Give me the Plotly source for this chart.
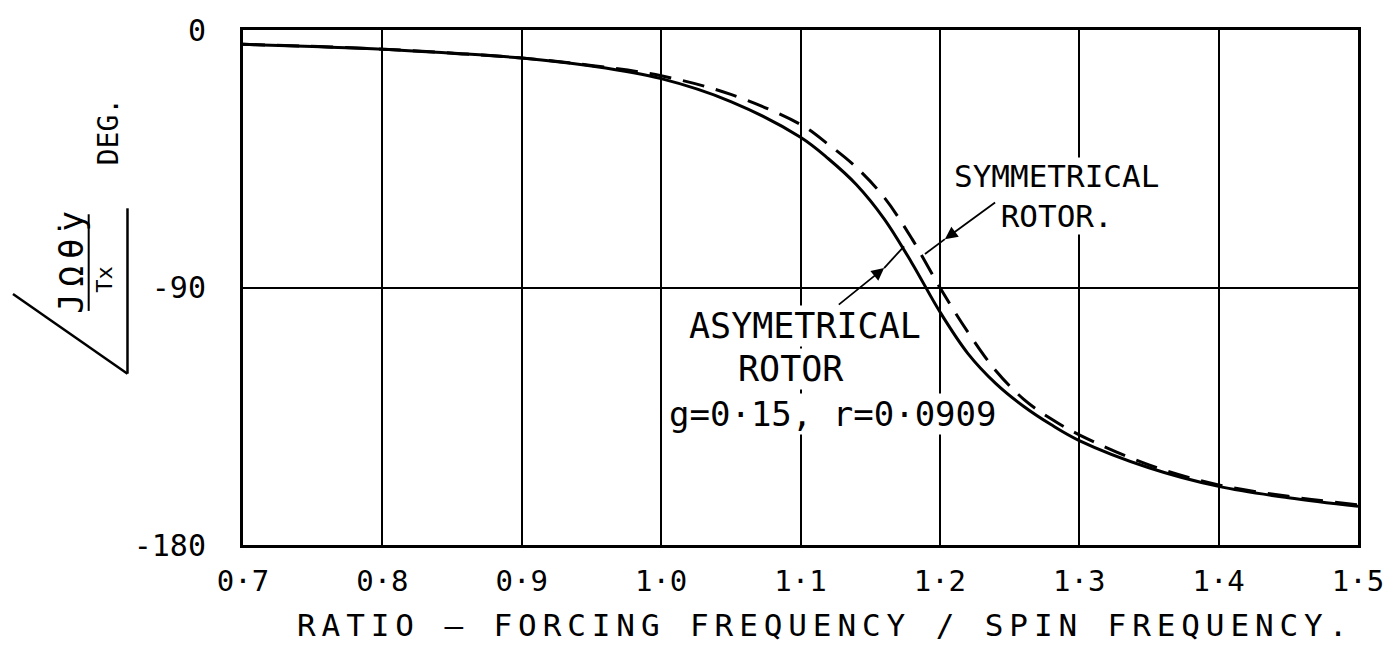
import plotly.graph_objects as go

# Axis ticks
ratio_ticks = [0.7, 0.8, 0.9, 1.0, 1.1, 1.2, 1.3, 1.4, 1.5]
ratio_labels = ["0·7", "0·8", "0·9", "1·0", "1·1", "1·2", "1·3", "1·4", "1·5"]
phase_ticks = [0, -90, -180]
phase_labels = ["0", "-90", "-180"]

# Asymmetrical rotor (g = 0.15, r = 0.0909): phase in degrees
asym_ratio = [0.70, 0.75, 0.80, 0.85, 0.90, 0.95, 1.00, 1.05, 1.10, 1.12,
              1.14, 1.16, 1.18, 1.20, 1.22, 1.24, 1.26, 1.28, 1.30, 1.35,
              1.40, 1.45, 1.50]
asym_phase = [-5, -5.8, -6.7, -8.1, -9.8, -12.6, -17, -25, -37.5, -45,
              -54, -66, -81.5, -98.5, -113, -123.5, -131.5, -138, -143.5, -153,
              -159.5, -163.5, -166.5]

# Symmetrical rotor
sym_ratio = [0.70, 0.80, 0.90, 0.95, 1.00, 1.05, 1.10, 1.12, 1.14, 1.16,
             1.18, 1.20, 1.22, 1.24, 1.26, 1.28, 1.30, 1.35, 1.40, 1.45,
             1.50]
sym_phase = [-5, -6.7, -9.8, -12.4, -16, -22.5, -33, -40, -48, -58.5,
             -73, -90, -105.5, -119, -129, -136, -141.5, -152, -159, -163,
             -166]

FONT = "DejaVu Sans Mono"
INK = "black"


def spaced(text, px):
    return f'<span style="letter-spacing:{px}px">{text}</span>'


fig = go.Figure()
fig.add_trace(go.Scatter(x=asym_ratio, y=asym_phase, mode="lines",
                         line=dict(color=INK, width=3, shape="spline"),
                         showlegend=False, hoverinfo="skip"))
fig.add_trace(go.Scatter(x=sym_ratio, y=sym_phase, mode="lines",
                         line=dict(color=INK, width=3, shape="spline", dash="22px,12px"),
                         showlegend=False, hoverinfo="skip"))

fig.update_xaxes(range=[0.7, 1.5], tickvals=ratio_ticks, ticktext=ratio_labels,
                 showgrid=True, gridcolor=INK, gridwidth=2,
                 showline=True, linecolor=INK, linewidth=3, mirror=True,
                 ticks="", zeroline=False, ticklabelstandoff=8,
                 tickfont=dict(family=FONT, size=29, color=INK))
fig.update_yaxes(range=[-180, 0], tickvals=phase_ticks, ticktext=phase_labels,
                 showgrid=True, gridcolor=INK, gridwidth=2,
                 showline=True, linecolor=INK, linewidth=3, mirror=True,
                 ticks="", zeroline=False, ticklabelstandoff=28,
                 tickfont=dict(family=FONT, size=30, color=INK))

# Curve labels
labels = [
    dict(text="SYMMETRICAL<br>ROTOR.", x=1.2836, y=-58.0, size=31),
    dict(text="ASYMETRICAL", x=1.1029, y=-103.4, size=35),
    dict(text="ROTOR", x=1.0929, y=-118.4, size=35),
    dict(text="g=0·15, r=0·0909", x=1.1236, y=-134.1, size=34),
]
for lb in labels:
    fig.add_annotation(x=lb["x"], y=lb["y"], xref="x", yref="y", text=lb["text"],
                       showarrow=False, bgcolor="white", borderpad=0,
                       xanchor="center", yanchor="middle",
                       font=dict(family=FONT, size=lb["size"], color=INK))

# Leader arrows: tail -> arrowhead, then a short line on to the curve
leaders = [
    dict(tail=(1.2407, -59.9), head=(1.2036, -73.1), end=(1.1893, -78.3)),
    dict(tail=(1.1264, -96.4), head=(1.1600, -83.2), end=(1.1743, -75.6)),
]
for ld in leaders:
    fig.add_annotation(x=ld["head"][0], y=ld["head"][1], ax=ld["tail"][0], ay=ld["tail"][1],
                       xref="x", yref="y", axref="x", ayref="y", text="",
                       showarrow=True, arrowhead=2, arrowsize=1.4, arrowwidth=1.8,
                       arrowcolor=INK)
    fig.add_shape(type="line", xref="x", yref="y",
                  x0=ld["head"][0], y0=ld["head"][1], x1=ld["end"][0], y1=ld["end"][1],
                  line=dict(color=INK, width=1.8))

# Y-axis title: angle sign with J Ω θ̇y / Tx, and DEG.
fig.add_shape(type="line", xref="paper", yref="paper", x0=-0.1036, y0=0.3327,
              x1=-0.1036, y1=0.6538, line=dict(color=INK, width=2.5))
fig.add_shape(type="line", xref="paper", yref="paper", x0=-0.1036, y0=0.3327,
              x1=-0.2063, y1=0.4874, line=dict(color=INK, width=2.5))
fig.add_shape(type="line", xref="paper", yref="paper", x0=-0.1384, y0=0.4545,
              x1=-0.1384, y1=0.6422, line=dict(color=INK, width=2))
title_parts = [
    dict(text=spaced("JΩθ̇y", 7), x=-0.1545, y=0.5551, size=34),
    dict(text="Tx", x=-0.125, y=0.5164, size=22),
    dict(text="DEG.", x=-0.1205, y=0.8027, size=28),
]
for tp in title_parts:
    fig.add_annotation(x=tp["x"], y=tp["y"], xref="paper", yref="paper", text=tp["text"],
                       textangle=-90, showarrow=False, xanchor="center", yanchor="middle",
                       font=dict(family=FONT, size=tp["size"], color=INK))

# X-axis title
fig.add_annotation(x=0.522, y=-0.155, xref="paper", yref="paper",
                   text=spaced("RATIO — FORCING FREQUENCY / SPIN FREQUENCY.", 5.9),
                   showarrow=False, xanchor="center", yanchor="middle",
                   font=dict(family=FONT, size=31, color=INK))

fig.update_layout(width=1396, height=656, margin=dict(l=243, r=33, t=28, b=111),
                  paper_bgcolor="white", plot_bgcolor="white")

fig.write_html("out.html")
